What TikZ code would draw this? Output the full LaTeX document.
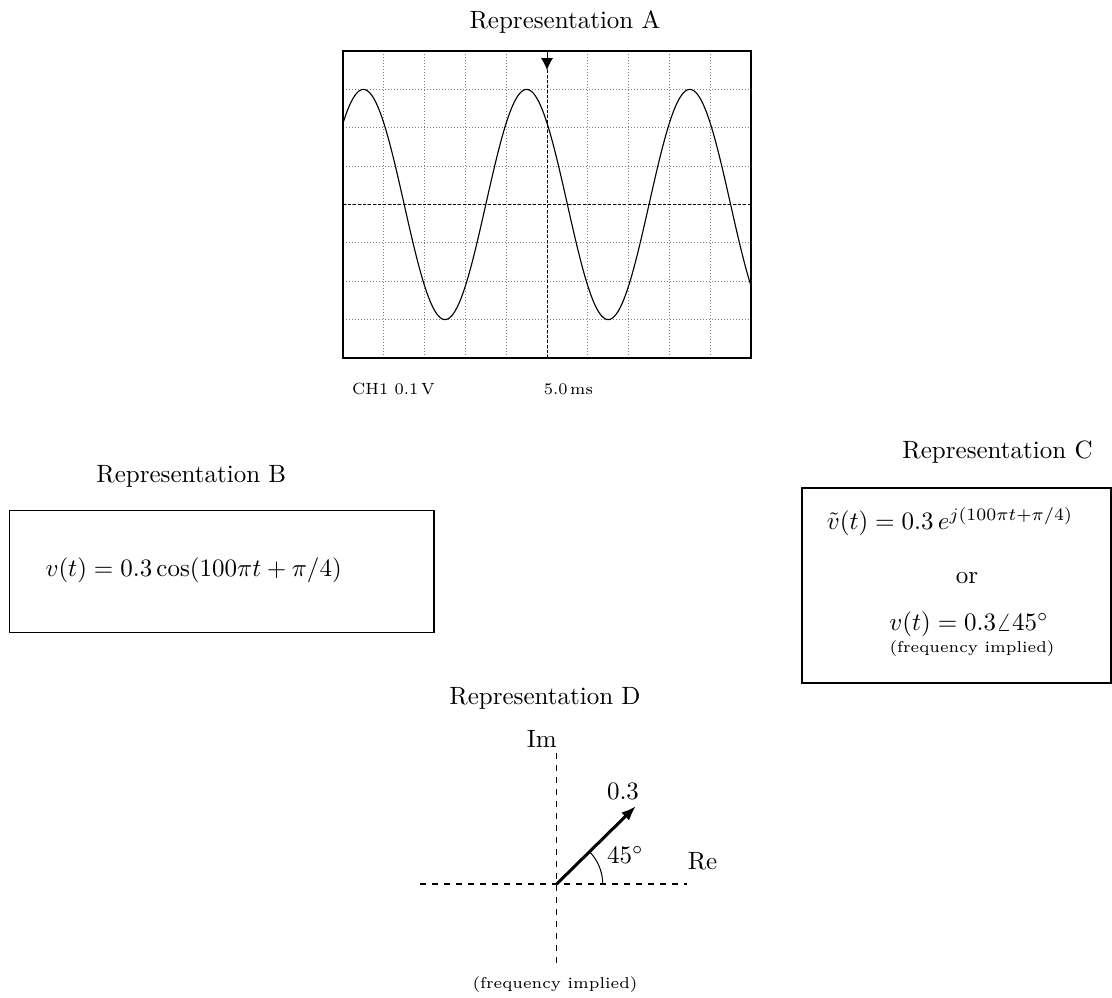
\documentclass[tikz,border=0pt]{standalone}
\usetikzlibrary{arrows.meta}
\begin{document}
\begin{tikzpicture}[x=0.4pt,y=0.4pt,
  title/.style={font=\normalsize, anchor=base, inner sep=0pt},
  small/.style={font=\fontsize{6.5}{8}\selectfont, anchor=base west, inner sep=0pt},
  note/.style={font=\fontsize{6.3}{7.5}\selectfont, anchor=base, inner sep=0pt},
  box/.style={draw, line width=0.5pt},
  axis/.style={line width=0.5pt, dash pattern=on 2.4pt off 2.4pt},
  gridline/.style={gray, line width=0.3pt, dash pattern=on 0.4pt off 0.8pt},
  centerline/.style={line width=0.4pt, dash pattern=on 1.2pt off 0.8pt},
]
\useasboundingbox (0,0) rectangle (1112,998);

% Representation A
\node[title] (tA) at (565,969.7) {Representation A};
\begin{scope}[shift={(547,793.5)}, x=16.32pt, y=15.35pt]
  \draw[gridline, xstep=16.32pt, ystep=15.35pt] (-5,-4) grid (5,4);
  \draw[centerline] (-5,0) -- (5,0);
  \draw[centerline] (0,-4) -- (0,4);
  \draw[line width=0.45pt, smooth, samples=200, domain=-5:5] plot (\x, {3*cos(90*\x+45)});
  \draw[line width=0.7pt] (-5,-4) rectangle (5,4);
  \coordinate (trigtop) at (0,4);
  \coordinate (trigtip) at (0,3.5);
  \draw[-{Latex[length=4.8pt,width=4.8pt]}, line width=0.4pt] (trigtop) -- (trigtip);
\end{scope}
\node[small] (ch) at (351.7,603) {CH1 0.1\,V};
\node[small] (ms) at (543.3,603) {5.0\,ms};

% Representation B
\node[title] (tB) at (191.3,515.7) {Representation B};
\draw[box] (9.3,487.3) rectangle (434,365.7);
\node[anchor=base west, inner sep=0pt] (fB) at (45,421) {$v(t) = 0.3\cos(100\pi t + \pi/4)$};

% Representation C
\node[title] (tC) at (997.5,539.7) {Representation C};
\draw[box] (802,510) rectangle (1111,315);
\node[anchor=base, inner sep=0pt] (fC1) at (950,468) {$\tilde v(t) = 0.3\,e^{j(100\pi t+\pi/4)}$};
\node[anchor=base, inner sep=0pt] (or) at (967,414) {or};
\node[anchor=base, inner sep=0pt] (fC2) at (969,367) {$v(t) = 0.3\angle 45^\circ$};
\node[note] (fi1) at (972,345) {(frequency implied)};

% Representation D
\node[title] (tD) at (545,293.7) {Representation D};
\coordinate (O) at (556.7,114);
\coordinate (imtop) at (556.7,245);
\coordinate (imbot) at (556.7,35);
\coordinate (releft) at (420,114);
\coordinate (reright) at (686.7,114);
\draw[axis] (imbot) -- (imtop);
\draw[axis] (releft) -- (reright);
\node[anchor=base, inner sep=0pt] (im) at (541.7,250) {Im};
\node[anchor=base west, inner sep=0pt] (re) at (687.3,128) {Re};
\coordinate (tip) at (636,192);
\draw[line width=1.2pt, -{Latex[length=6pt,width=4.5pt]}] (O) -- (tip);
\node[anchor=base, inner sep=0pt] (mag) at (623,198.7) {0.3};
\draw[line width=0.4pt] (602.7,114) arc[start angle=0, end angle=45, radius=46];
\node[anchor=base west, inner sep=0pt] (ang) at (606.7,134.7) {$45^\circ$};
\node[note] (fi2) at (555,9) {(frequency implied)};
\end{tikzpicture}
\end{document}
